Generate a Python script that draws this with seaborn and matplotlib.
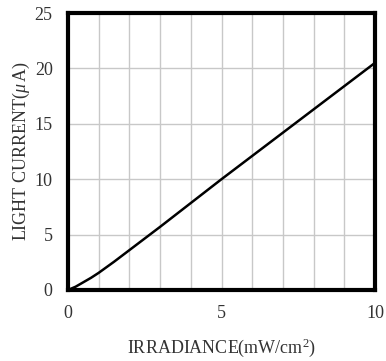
import matplotlib
matplotlib.use("Agg")
import matplotlib.pyplot as plt
import seaborn as sns
import pandas as pd

irradiance = [0, 0.25, 0.5, 0.75, 1.0, 1.5, 2.0, 3.0, 4.0, 5.0, 6.0, 7.0, 8.0, 9.0, 10.0]
light_current = [0, 0.3, 0.7, 1.1, 1.55, 2.55, 3.6, 5.7, 7.85, 10.0, 12.1, 14.2, 16.3, 18.4, 20.5]
x_ticks = [0, 5, 10]
y_ticks = [0, 5, 10, 15, 20, 25]

sns.set_style("white")
plt.rcParams['font.family'] = ['Liberation Serif', 'DejaVu Serif']
plt.rcParams['mathtext.fontset'] = 'custom'
plt.rcParams['mathtext.rm'] = 'Liberation Serif'
plt.rcParams['mathtext.it'] = 'Liberation Serif:italic'

df = pd.DataFrame({"x": irradiance, "y": light_current})

fig = plt.figure(figsize=(3.86, 3.61), dpi=100)
ax = fig.add_axes([68/386, 1-290/361, (375-68)/386, (290-13)/361])

ax.set_xlim(0, 10)
ax.set_ylim(0, 25)
for v in range(1, 10):
    ax.axvline(v, color="#c8c8c8", lw=1.0, zorder=0)
for v in [5, 10, 15, 20]:
    ax.axhline(v, color="#c8c8c8", lw=1.0, zorder=0)

sns.lineplot(data=df, x="x", y="y", ax=ax, color="black", lw=1.8, zorder=3)

ax.set_xticks(x_ticks)
ax.set_yticks(y_ticks)
ax.tick_params(length=0, labelsize=13, colors="#333333", pad=11)
for s in ax.spines.values():
    s.set_linewidth(3)
    s.set_color("black")
    s.set_zorder(5)

ax.set_xlabel(r"IRRADIANCE(mW/cm$^2$)", fontsize=13, color="#333333", labelpad=10)
ax.set_ylabel(r"LIGHT CURRENT($\mu\,$A)", fontsize=13, color="#333333", labelpad=2)

fig.savefig("out.png", dpi=100)
